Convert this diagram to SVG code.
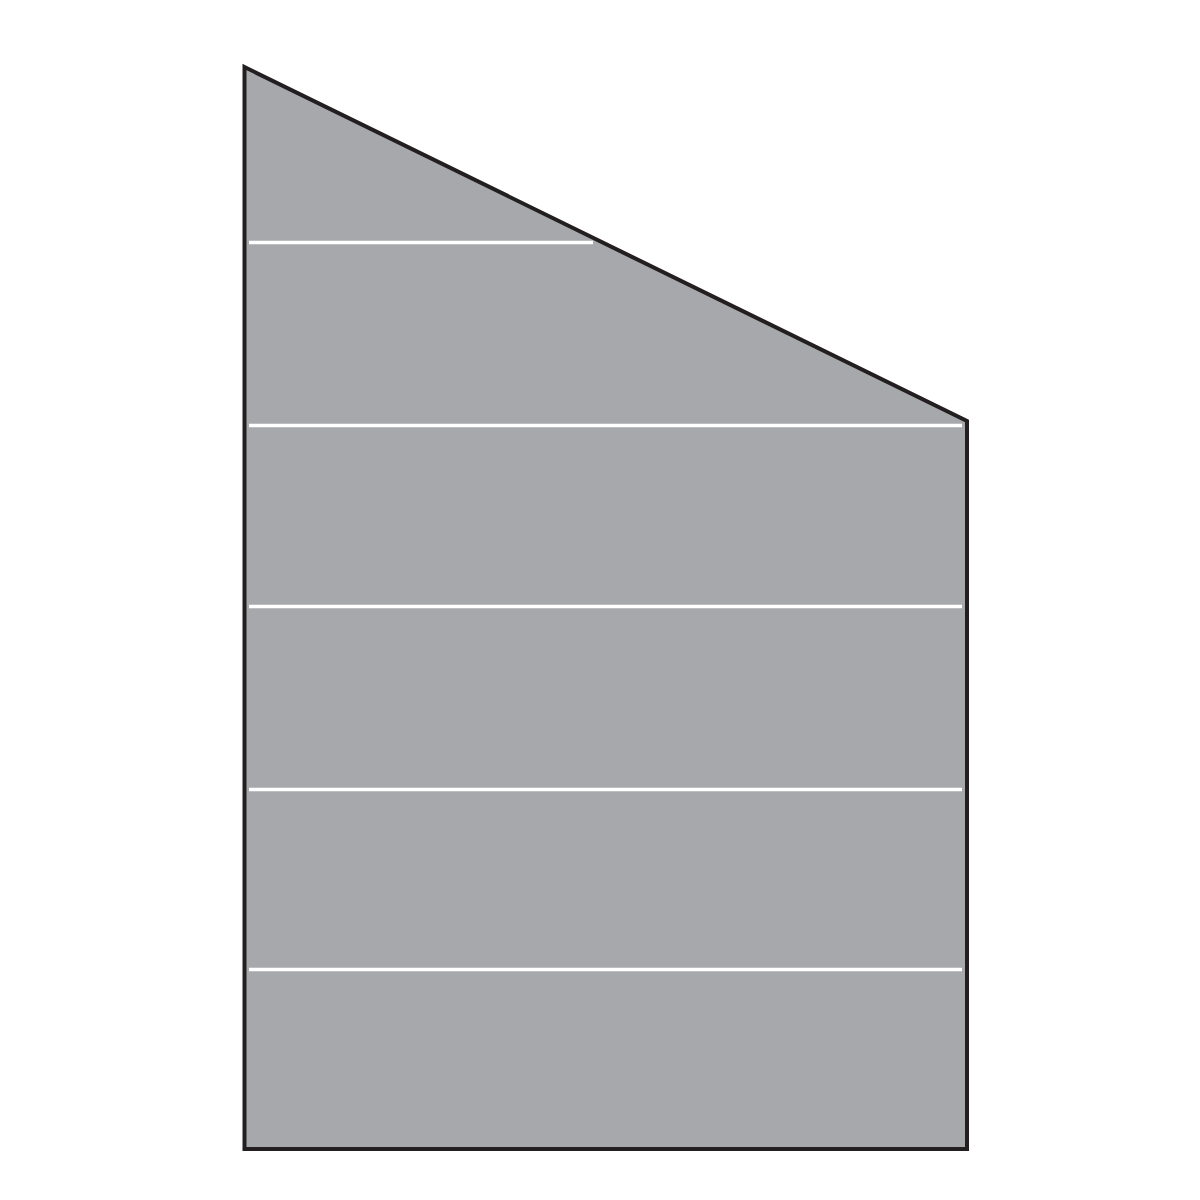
<svg xmlns="http://www.w3.org/2000/svg" width="1200" height="1200" viewBox="0 0 1200 1200">
<style>
.panel{fill:#a7a8ab;stroke:#231f20;stroke-width:4;stroke-linejoin:miter}
.seam{stroke:#ffffff;stroke-width:3.5;fill:none}
</style>
<rect width="1200" height="1200" fill="#ffffff"/>
<g id="panel">
<polygon class="panel" points="244.5,67 967,421 967,1149 244.5,1149"/>
</g>
<g id="seams">
<line class="seam" x1="249" y1="242.5" x2="593" y2="242.5"/>
<line class="seam" x1="249" y1="425.5" x2="962" y2="425.5"/>
<line class="seam" x1="249" y1="606.5" x2="962" y2="606.5"/>
<line class="seam" x1="249" y1="789.5" x2="962" y2="789.5"/>
<line class="seam" x1="249" y1="969.5" x2="962" y2="969.5"/>
</g>
</svg>
